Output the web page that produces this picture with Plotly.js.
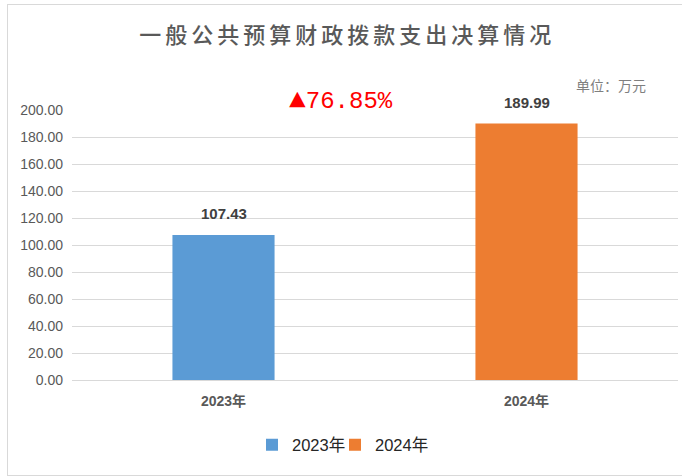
<!DOCTYPE html>
<html>
<head>
<meta charset="utf-8">
<script src="https://cdn.plot.ly/plotly-3.0.1.min.js"></script>
<style>
html,body{margin:0;padding:0;background:#fff;}
#chart{width:682px;height:476px;position:relative;}
#frame{position:absolute;left:7px;top:4px;width:690px;height:470px;border:1.5px solid #d9d9d9;pointer-events:none;}
.gtitle{letter-spacing:4px;}
</style>
</head>
<body>
<div id="chart"></div>
<div id="frame"></div>
<script>
var categories = ["2023年", "2024年"];
var values = [107.43, 189.99];
var colors = ["#5B9BD5", "#ED7D31"];
var growthText = "<span style=\"font-size:28px\">▲</span>76.85%";
var unitText = "单位：万元";
var titleText = "一般公共预算财政拨款支出决算情况";

var traces = categories.map(function(c, i){
  return {
    type: "bar",
    name: c,
    x: [c],
    y: [values[i]],
    width: 0.337,
    marker: {color: colors[i]},
    hoverinfo: "none"
  };
});
// spacer legend entry (invisible) so the last real entry is not clipped
traces.push({
  type: "bar", name: " ", x: [categories[0]], y: [null],
  marker: {color: "rgba(0,0,0,0)"}, hoverinfo: "none", showlegend: true
});

var annotations = categories.map(function(c, i){
  return {
    x: c, y: values[i], xref: "x", yref: "y",
    text: values[i].toFixed(2),
    showarrow: false, yshift: 21,
    font: {family: "Liberation Sans, Arial, sans-serif", size: 15, color: "#404040", weight: "bold"}
  };
});
annotations.push({
  xref: "paper", yref: "paper", x: 0.444, y: 1.037, xanchor: "center", yanchor: "middle",
  text: growthText, showarrow: false,
  font: {family: "Liberation Mono, DejaVu Sans Mono, monospace", size: 24, color: "#FF0000"}
});
annotations.push({
  xref: "paper", yref: "paper", x: 0.889, y: 1.0926, xanchor: "center", yanchor: "middle",
  text: unitText, showarrow: false,
  font: {family: "Noto Sans CJK SC, sans-serif", size: 14, color: "#7f7f7f"}
});

var layout = {
  width: 682, height: 476,
  margin: {l: 72, r: 4, t: 110, b: 96},
  paper_bgcolor: "#ffffff", plot_bgcolor: "#ffffff",
  title: {
    text: titleText,
    x: 0.509, xref: "container", xanchor: "center",
    y: 1 - 35/476, yref: "container", yanchor: "middle",
    font: {family: "Noto Sans CJK SC, sans-serif", size: 22, color: "#595959", weight: 500}
  },
  barmode: "overlay",
  showlegend: true,
  legend: {
    orientation: "h", xref: "container", yref: "container",
    x: 252/682, xanchor: "left", y: 1 - 445/476, yanchor: "middle",
    font: {family: "Liberation Sans, Noto Sans CJK SC, sans-serif", size: 16.5, color: "#262626"},
    itemwidth: 30, traceorder: "normal",
    entrywidth: 38, entrywidthmode: "pixels"
  },
  xaxis: {
    type: "category",
    showgrid: false, zeroline: false,
    showline: true, linecolor: "#d9d9d9", linewidth: 1,
    ticks: "",
    tickfont: {family: "Liberation Sans, Noto Sans CJK SC, sans-serif", size: 14, color: "#595959", weight: "bold"},
    ticklabelstandoff: 8
  },
  yaxis: {
    range: [0, 200], dtick: 20, tick0: 0,
    tickformat: ".2f",
    showgrid: true, gridcolor: "#d9d9d9", gridwidth: 1,
    zeroline: false, showline: false, ticks: "",
    tickfont: {family: "Liberation Sans, Arial, sans-serif", size: 14, color: "#595959"},
    ticklabelstandoff: 8
  },
  annotations: annotations
};

Plotly.newPlot("chart", traces, layout, {displayModeBar: false, staticPlot: true});
</script>
</body>
</html>
